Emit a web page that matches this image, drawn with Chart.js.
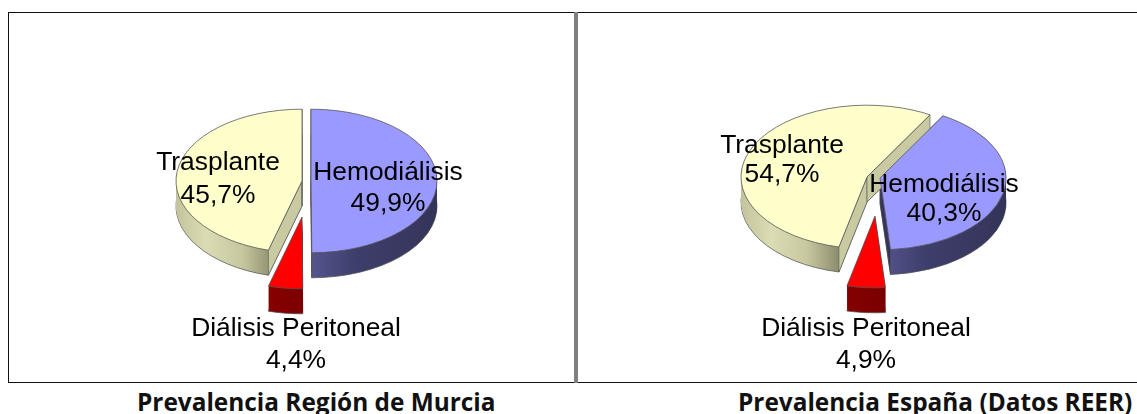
<!DOCTYPE html>
<html>
<head>
<meta charset="utf-8">
<title>Prevalencia</title>
<script src="https://cdnjs.cloudflare.com/ajax/libs/Chart.js/4.4.0/chart.umd.min.js"></script>
<style>
    html, body { margin: 0; padding: 0; background: #fff; overflow: hidden; }
    #page { position: relative; width: 1137px; height: 414px; overflow: hidden; }
    canvas { position: absolute; top: 13px; }
    #murcia { left: 9px; }
    #espana { left: 578px; }
    .line { position: absolute; background: #111; }
    .title {
        position: absolute; top: 385px; white-space: nowrap;
        font: bold 24.4px "Open Sans", sans-serif; color: #111;
    }
    .title sup { font-size: 7px; font-weight: normal; vertical-align: 12px; }
</style>
</head>
<body>
<div id="page">
    <div class="line" style="left:8px;top:12px;width:1129px;height:1px"></div>
    <div class="line" style="left:8px;top:382px;width:1129px;height:1px"></div>
    <div class="line" style="left:8px;top:12px;width:1px;height:371px"></div>
    <div class="line" style="left:574px;top:12px;width:4px;height:371px;background:#808080"></div>
    <canvas id="murcia" width="565" height="369"></canvas>
    <canvas id="espana" width="559" height="369"></canvas>
    <div class="title" id="titleMurcia" style="left:137px"></div>
    <div class="title" id="titleEspana" style="left:738px"></div>
</div>
<script>
const categories = ['Hemodiálisis', 'Diálisis Peritoneal', 'Trasplante'];
const murciaValues = [49.9, 4.4, 45.7];
const espanaValues = [40.3, 4.9, 54.7];
const murciaTitle = 'Prevalencia Región de Murcia';
const espanaTitle = 'Prevalencia España (Datos REER)';

const topColors = ['#9999FF', '#FF0000', '#FFFFCC'];
const faceColors = ['#33335c', null, '#c9c9a2'];
const sideStops = [
    [[0.5, '#55558f'], [0.68, '#3e3e6b'], [1, '#34345a']],
    [[0.3, '#8c0000'], [0.6, '#750000']],
    [[0, '#c4c49c'], [0.12, '#dcdcb4'], [0.26, '#c8c8a0'], [0.39, '#8c8c6e']]
];

const RADIUS = 126;
const SQUASH = 0.57;
const DEPTH = 25;

function side(arc, ctx, stops) {
    const g = ctx.createLinearGradient(arc.x - RADIUS, 0, arc.x + RADIUS, 0);
    stops.forEach(s => g.addColorStop(s[0], s[1]));
    return g;
}

// pie laid flat: every slice is squashed, pulled out and given a thickness
const pie3d = {
    id: 'pie3d',
    beforeDatasetsDraw(chart, args, opts) {
        const ctx = chart.ctx;
        const arcs = chart.getDatasetMeta(0).data;
        const place = (arc, i, down) => {
            ctx.translate(arc.x + opts.explode[i][0], arc.y + opts.explode[i][1] + down);
            ctx.scale(1, SQUASH);
            ctx.translate(-arc.x, -arc.y);
        };

        arcs.forEach((arc, i) => {
            const original = arc.options;
            // outer wall
            for (let k = DEPTH; k > 0; k--) {
                ctx.save();
                place(arc, i, k);
                arc.options = { ...original, backgroundColor: side(arc, ctx, sideStops[i]), borderWidth: k === DEPTH ? 1 : 0 };
                arc.draw(ctx);
                ctx.restore();
            }
            arc.options = original;

            // cut faces
            if (!faceColors[i]) return;
            const ox = arc.x + opts.explode[i][0];
            const oy = arc.y + opts.explode[i][1];
            [arc.startAngle, arc.endAngle].forEach(a => {
                const ex = ox + Math.cos(a) * RADIUS;
                const ey = oy + Math.sin(a) * RADIUS * SQUASH;
                ctx.beginPath();
                ctx.moveTo(ox, oy);
                ctx.lineTo(ex, ey);
                ctx.lineTo(ex, ey + DEPTH);
                ctx.lineTo(ox, oy + DEPTH);
                ctx.closePath();
                ctx.fillStyle = faceColors[i];
                ctx.fill();
                ctx.lineWidth = 0.6;
                ctx.strokeStyle = '#555';
                ctx.stroke();
            });
        });

        arcs.forEach((arc, i) => {
            ctx.save();
            place(arc, i, 0);
            arc.draw(ctx);
            ctx.restore();
        });
        return false;
    },
    afterDraw(chart, args, opts) {
        const ctx = chart.ctx;
        const values = chart.data.datasets[0].data;
        ctx.save();
        ctx.font = '26.4px "Liberation Sans", Arial, sans-serif';
        ctx.fillStyle = '#000';
        ctx.textAlign = 'center';
        ctx.textBaseline = 'middle';
        chart.data.labels.forEach((name, i) => {
            const a = opts.anchors[i];
            ctx.fillText(name, a[0], a[1]);
            ctx.fillText(values[i].toFixed(1).replace('.', ',') + '%', a[0], a[2]);
        });
        ctx.restore();
    }
};

function drawPie(id, values, rotation, padding, explode, anchors) {
    return new Chart(document.getElementById(id), {
        type: 'pie',
        data: {
            labels: categories,
            datasets: [{
                data: values,
                rotation: rotation,
                backgroundColor: topColors,
                borderColor: '#555',
                borderWidth: 1
            }]
        },
        options: {
            responsive: false,
            animation: false,
            radius: RADIUS,
            layout: { padding: padding },
            plugins: {
                legend: { display: false },
                tooltip: { enabled: false },
                pie3d: { explode: explode, anchors: anchors }
            }
        },
        plugins: [pie3d]
    });
}

drawPie('murcia', murciaValues, 0,
    { left: 29, bottom: 33 },
    [[5, 0], [-4, 36], [-4, 0]],
    [[379, 160, 191], [287, 316, 348], [209, 150, 183]]);

drawPie('espana', espanaValues, 30,
    { left: 31, bottom: 39 },
    [[7, 0], [2, 38], [-6, -1]],
    [[366, 172, 201], [288, 316, 348], [204, 133, 162]]);

document.getElementById('titleMurcia').textContent = murciaTitle;
document.getElementById('titleEspana').innerHTML = espanaTitle + ' <sup>1</sup>';
</script>
</body>
</html>
